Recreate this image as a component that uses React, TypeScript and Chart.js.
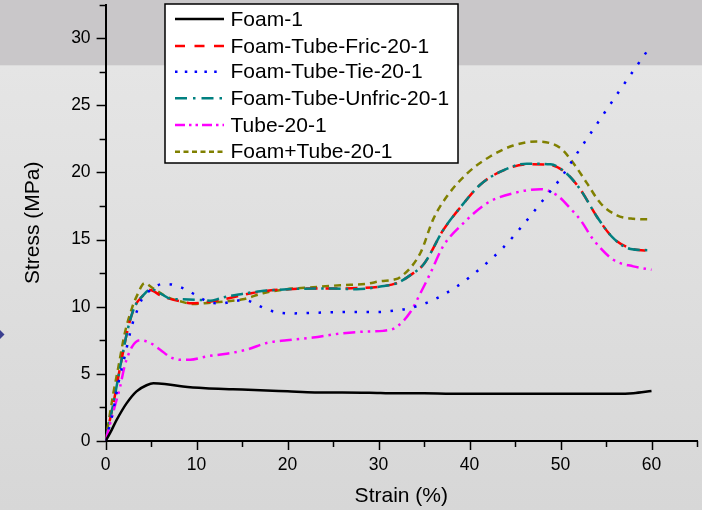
import React, { useEffect, useRef } from "react";
import { Chart, registerables } from "chart.js";

Chart.register(...registerables);

// ---- data (strain %, stress MPa) ----
const foamX = [0, 0.5, 1.2, 2.3, 3.4, 4.5, 5.25, 6.5, 8.5, 11, 14, 17, 20, 23, 26, 29, 32, 35, 38, 41, 44, 47, 50, 53, 56, 58, 60];
const foamY = [0, 0.6, 1.55, 2.8, 3.7, 4.15, 4.3, 4.25, 4.05, 3.92, 3.85, 3.78, 3.7, 3.62, 3.62, 3.6, 3.55, 3.55, 3.52, 3.52, 3.52, 3.52, 3.52, 3.52, 3.52, 3.56, 3.72];

const fricX = [0, 0.3, 1, 1.6, 2.5, 3.2, 4, 4.9, 6, 7, 8.2, 9.5, 10.5, 11.7, 12.6, 14, 16, 18, 20, 22, 25, 28, 30.2, 32, 33.5, 35, 37.1, 39, 41.2, 43.4, 46.3, 48.9, 50.7, 52.2, 54, 55.8, 57.7, 60];
const fricY = [0, 1.0, 3.3, 5.5, 8.5, 10, 10.75, 11.25, 10.85, 10.6, 10.4, 10.25, 10.3, 10.4, 10.5, 10.7, 11.0, 11.2, 11.3, 11.35, 11.35, 11.4, 11.5, 11.75, 12.35, 13.2, 15.7, 17.4, 19.1, 20.05, 20.6, 20.55, 19.9, 18.7, 16.7, 15.1, 14.35, 14.15];

const tieX = [0, 0.85, 1.4, 2.1, 2.9, 3.4, 3.95, 5.05, 6.35, 7.6, 8.9, 10.2, 11.5, 12.8, 14, 15.3, 16.6, 17.9, 19.2, 20.6, 23, 26, 28, 29.8, 32.2, 33.5, 36, 38.6, 41.2, 43.7, 45.9, 48.1, 50, 51.8, 53.6, 56.2, 60];
const tieY = [0, 2.3, 4.3, 6.3, 8.6, 9.6, 10.5, 11.3, 11.7, 11.6, 11.25, 10.75, 10.3, 10.25, 10.4, 10.5, 10.15, 9.75, 9.55, 9.5, 9.55, 9.6, 9.6, 9.6, 9.75, 9.9, 10.5, 11.5, 12.85, 14.4, 16.1, 17.95, 19.55, 21.4, 23.2, 25.8, 29.5];

const unfricX = [0, 0.3, 1, 1.6, 2.5, 3.2, 4, 5, 6, 7.1, 8.5, 10.4, 11.5, 12.5, 13.3, 15, 17, 20, 23, 25, 27.6, 30.2, 32, 33.5, 35, 37.1, 39, 41.2, 43.4, 46.3, 48.9, 50.7, 52.2, 54, 55.8, 57.7, 60];
const unfricY = [0, 1.0, 3.3, 5.5, 8.5, 10, 10.75, 11.3, 11.0, 10.6, 10.55, 10.5, 10.45, 10.6, 10.75, 10.95, 11.15, 11.3, 11.35, 11.35, 11.3, 11.5, 11.75, 12.35, 13.2, 15.7, 17.4, 19.1, 20.05, 20.65, 20.6, 19.9, 18.7, 16.7, 15.1, 14.3, 14.2];

const tubeX = [0, 0.5, 1.0, 1.6, 2.1, 2.9, 3.8, 4.9, 6, 7.1, 8.2, 9.3, 11.1, 13.3, 15.5, 17.7, 19.9, 22.8, 25.8, 28.7, 30.5, 32, 33.5, 34.6, 35.7, 37.1, 39.3, 41.9, 44.8, 47.8, 49.6, 51.1, 52.2, 53.6, 55.8, 58, 60];
const tubeY = [0, 1.3, 2.55, 4.05, 5.6, 7.0, 7.5, 7.3, 6.8, 6.25, 6.05, 6.05, 6.3, 6.5, 6.8, 7.3, 7.5, 7.7, 8.0, 8.15, 8.2, 8.5, 9.6, 11.0, 12.5, 14.5, 16.2, 17.7, 18.45, 18.75, 18.3, 17.3, 16.45, 15.0, 13.5, 13.0, 12.75];

const combX = [0, 0.85, 1.2, 1.4, 2.1, 2.9, 3.4, 4.3, 5.25, 6.7, 8.2, 9.65, 11.5, 13.3, 15.1, 17.3, 19.9, 22.8, 25.8, 28.7, 30.2, 31.6, 32.4, 34.6, 36, 37.5, 39.7, 42.3, 44.8, 47.4, 50, 51.4, 52.9, 54.4, 56.2, 58, 60];
const combY = [0, 3.55, 4.8, 5.5, 8.0, 9.9, 10.75, 11.75, 11.35, 10.75, 10.4, 10.2, 10.3, 10.4, 10.55, 11.0, 11.3, 11.45, 11.6, 11.7, 11.9, 12.0, 12.2, 14.0, 16.5, 18.2, 19.9, 21.2, 22.0, 22.3, 21.8, 20.7, 19.2, 17.7, 16.8, 16.55, 16.5];

const seriesNames = [
  "Foam-1",
  "Foam-Tube-Fric-20-1",
  "Foam-Tube-Tie-20-1",
  "Foam-Tube-Unfric-20-1",
  "Tube-20-1",
  "Foam+Tube-20-1",
];

const xTickLabelStep = 10;
const yTickLabelStep = 5;
const xMax = 65;
const yMax = 32.5;

const FONT = "'Liberation Sans', Arial, sans-serif";

const styles = [
  { color: "#000000", dash: [], legendDash: [], order: 0 },
  { color: "#ff0000", dash: [12, 8], legendDash: [10, 9.5], order: 4 },
  { color: "#0000ff", dash: [2.5, 9.5], legendDash: [2.5, 7.3], order: 1 },
  { color: "#008080", dash: [12, 5, 2.5, 5], legendDash: [12, 6, 2.5, 6], order: 3 },
  { color: "#ff00ff", dash: [12, 5, 2.5, 5, 2.5, 5], legendDash: [10, 4, 2.5, 4, 2.5, 4], order: 2 },
  { color: "#808000", dash: [7, 5], legendDash: [5, 3.5], order: 5 },
];

const xs = [foamX, fricX, tieX, unfricX, tubeX, combX];
const ys = [foamY, fricY, tieY, unfricY, tubeY, combY];

const decorPlugin = {
  id: "decor",
  beforeDraw(chart: any) {
    const { ctx, width, height } = chart;
    ctx.save();
    const g = ctx.createLinearGradient(0, 66, 0, height);
    g.addColorStop(0, "#e5e5e5");
    g.addColorStop(1, "#d7d7d7");
    ctx.fillStyle = g;
    ctx.fillRect(0, 0, width, height);
    ctx.fillStyle = "#c9c7c9";
    ctx.fillRect(0, 0, width, 65);
    ctx.fillStyle = "#dcdcdc";
    ctx.fillRect(0, 65, width, 1);
    // small diamond at left edge
    ctx.fillStyle = "#3b3f8f";
    ctx.beginPath();
    ctx.moveTo(4.5, 334.5);
    ctx.lineTo(0, 330);
    ctx.lineTo(-4.5, 334.5);
    ctx.lineTo(0, 339);
    ctx.closePath();
    ctx.fill();
    ctx.restore();
  },
  afterDraw(chart: any) {
    const { ctx } = chart;
    const xs_ = chart.scales.x;
    const ys_ = chart.scales.y;
    const area = chart.chartArea;
    ctx.save();
    ctx.strokeStyle = "#000";
    ctx.lineWidth = 1.5;
    // x ticks
    for (let v = 0; v <= xMax + 1e-6; v += 5) {
      const px = Math.round(xs_.getPixelForValue(v)) + 0.5;
      const len = Math.abs(v % xTickLabelStep) < 1e-6 ? 9 : 6;
      ctx.beginPath();
      ctx.moveTo(px, area.bottom);
      ctx.lineTo(px, area.bottom + len);
      ctx.stroke();
    }
    for (let v = 0; v <= yMax + 1e-6; v += 2.5) {
      const py = Math.round(ys_.getPixelForValue(v)) + 0.5;
      const len = Math.abs(v % yTickLabelStep) < 1e-6 ? 9 : 6;
      ctx.beginPath();
      ctx.moveTo(area.left, py);
      ctx.lineTo(area.left - len, py);
      ctx.stroke();
    }
    // legend
    const bx = 165, by = 4, bw = 293, bh = 159;
    ctx.fillStyle = "#ffffff";
    ctx.fillRect(bx, by, bw, bh);
    ctx.lineWidth = 1.5;
    ctx.strokeStyle = "#000";
    ctx.strokeRect(bx, by, bw, bh);
    const rowY = [19, 46, 71.7, 98.3, 125, 151.7];
    ctx.font = `21px ${FONT}`;
    ctx.textBaseline = "middle";
    ctx.textAlign = "left";
    seriesNames.forEach((name, i) => {
      const st = styles[i];
      ctx.strokeStyle = st.color;
      ctx.lineWidth = 2.5;
      ctx.setLineDash(st.legendDash);
      ctx.beginPath();
      ctx.moveTo(175, rowY[i]);
      ctx.lineTo(224, rowY[i]);
      ctx.stroke();
      ctx.setLineDash([]);
      ctx.fillStyle = "#000";
      ctx.fillText(name, 230.5, rowY[i] + 1);
    });
    ctx.restore();
  },
};

export default function App() {
  const ref = useRef<HTMLCanvasElement>(null);
  useEffect(() => {
    if (!ref.current) return;
    const datasets = seriesNames.map((name, i) => ({
      label: name,
      data: xs[i].map((x, j) => ({ x, y: ys[i][j] })),
      borderColor: styles[i].color,
      backgroundColor: styles[i].color,
      borderWidth: 2.5,
      borderDash: styles[i].dash,
      pointRadius: 0,
      cubicInterpolationMode: "monotone" as const,
      fill: false,
      order: styles[i].order,
    }));
    const chart = new Chart(ref.current, {
      type: "line",
      data: { datasets },
      plugins: [decorPlugin],
      options: {
        animation: false,
        responsive: false,
        devicePixelRatio: 1,
        layout: { padding: { left: 0, right: 5, top: 4.5, bottom: 0 } },
        plugins: {
          legend: { display: false },
          tooltip: { enabled: false },
        },
        scales: {
          x: {
            type: "linear",
            min: 0,
            max: xMax,
            afterFit: (s: any) => {
              s.height = 69;
              s.paddingLeft = 0;
              s.paddingRight = 0;
            },
            ticks: {
              stepSize: 5,
              autoSkip: false,
              maxRotation: 0,
              padding: 5,
              color: "#000",
              font: { family: FONT, size: 17.5 },
              callback: (v: any) => (Math.abs(Number(v) % xTickLabelStep) < 1e-6 ? String(v) : null),
            },
            grid: {
              display: true,
              drawOnChartArea: false,
              drawTicks: true,
              tickLength: 9,
              tickColor: "rgba(0,0,0,0)",
            },
            border: { display: true, color: "#000", width: 2 },
            title: {
              display: true,
              text: "Strain (%)",
              color: "#000",
              font: { family: FONT, size: 21 },
              padding: { top: 0, bottom: 1.5 },
            },
          },
          y: {
            type: "linear",
            min: 0,
            max: yMax,
            afterFit: (s: any) => {
              s.width = 105.6;
              s.paddingTop = 0;
              s.paddingBottom = 0;
            },
            ticks: {
              stepSize: 2.5,
              autoSkip: false,
              padding: 6,
              color: "#000",
              font: { family: FONT, size: 17.5 },
              callback: (v: any) => (Math.abs(Number(v) % yTickLabelStep) < 1e-6 ? String(v) : null),
            },
            grid: {
              display: true,
              drawOnChartArea: false,
              drawTicks: true,
              tickLength: 9,
              tickColor: "rgba(0,0,0,0)",
            },
            border: { display: true, color: "#000", width: 2 },
            title: {
              display: true,
              text: "Stress (MPa)",
              color: "#000",
              font: { family: FONT, size: 21 },
              padding: { top: 21, bottom: 0 },
            },
          },
        },
      },
    });
    return () => chart.destroy();
  }, []);
  return (
    <div style={{ position: "fixed", left: 0, top: 0, width: 702, height: 510 }}>
      <canvas ref={ref} width={702} height={510} />
    </div>
  );
}
